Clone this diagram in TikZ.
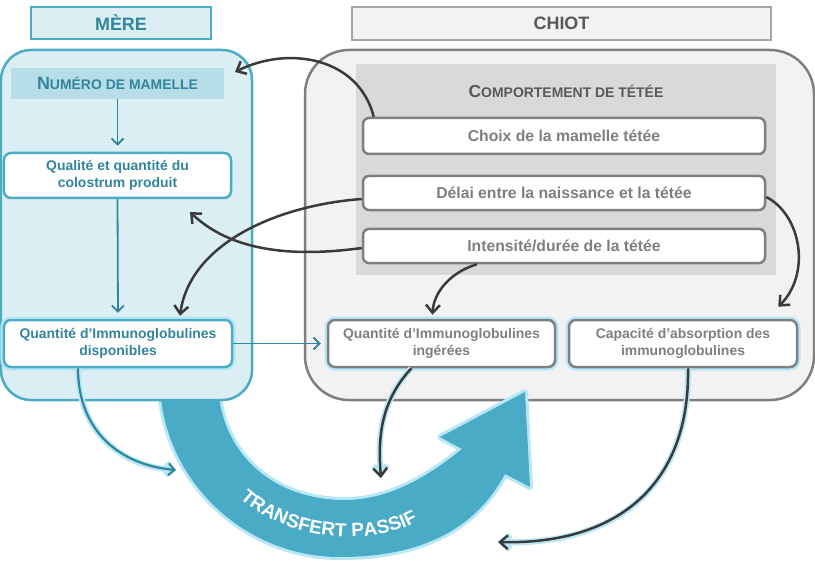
\documentclass[tikz,border=0pt]{standalone}
\usepackage{fontspec}
\setmainfont{Liberation Sans}
\usetikzlibrary{arrows.meta,decorations.text}
\definecolor{tealb}{HTML}{4BACC6}
\definecolor{tealt}{HTML}{31859C}
\definecolor{panelc}{HTML}{DAEEF3}
\definecolor{bandlc}{HTML}{B7DDE8}
\definecolor{bigc}{HTML}{4AABC7}
\definecolor{glowc}{HTML}{B8E8F6}
\definecolor{grayp}{HTML}{F2F2F2}
\definecolor{grayband}{HTML}{D9D9D9}
\definecolor{grayb}{HTML}{7F7F7F}
\definecolor{grayt}{HTML}{7F7F7F}
\definecolor{graydk}{HTML}{595959}
\definecolor{darkc}{HTML}{3A3A3A}
\tikzset{
  lbox/.style={draw=tealb, fill=white, line width=2.5bp, rounded corners=7bp, inner sep=0pt,
    font=\fontsize{14}{17.5}\selectfont\bfseries, text=tealt, align=center},
  rbox/.style={draw=grayb, fill=white, line width=2.5bp, rounded corners=6bp, inner sep=0pt,
    font=\fontsize{15.8}{18}\selectfont\bfseries, text=grayt, align=center},
  sbox/.style={draw=grayb, fill=white, line width=2.5bp, rounded corners=7bp, inner sep=0pt,
    font=\fontsize{14}{17.5}\selectfont\bfseries, text=grayt, align=center},
  glow/.style={preaction={draw=glowc, line width=7bp}},
  darr/.style={draw=darkc, line width=2.5bp, -{Straight Barb[length=8bp,width=14bp]}},
  garr/.style={darr, preaction={draw=glowc, line width=6bp}},
  tarr/.style={draw=tealt, line width=1.8bp, -{Straight Barb[length=6bp,width=12bp]}},
  tgarr/.style={tarr, line width=2.2bp, preaction={draw=glowc, line width=6bp}},
}
\begin{document}
\begin{tikzpicture}[x=1bp,y=-1bp]
\useasboundingbox (0,0) rectangle (815,568);
\fill[white] (0,0) rectangle (815,568);

% right panel
\node[draw=grayb, fill=grayp, line width=2.5bp, rounded corners=44bp, minimum width=509bp, minimum height=350bp, inner sep=0pt] (rp) at (559.5,225) {};
\node[fill=grayband, minimum width=420bp, minimum height=211bp, inner sep=0pt] (cband) at (566,169.5) {};
\node[text=graydk, font=\bfseries] (ctitle) at (566,91) {{\fontsize{17.5}{17.5}\selectfont C}{\fontsize{14}{14}\selectfont OMPORTEMENT DE TÉTÉE}};

% big transfer arrow
\fill[bigc, preaction={draw=glowc, line width=6bp, line join=round}]
  (160,380) .. controls (160,475) and (240,557) .. (340,557)
  .. controls (420,557) and (475,530) .. (505,474)
  -- (530,487) -- (525,392) -- (440,437) -- (462,449)
  .. controls (430,475) and (390,500) .. (345,500)
  .. controls (270,500) and (218,450) .. (218,380) -- cycle;
\path[decorate, decoration={text along path, text align=fit to path,
  text={|\color{white}\fontsize{19}{19}\selectfont\bfseries|TRANSFERT PASSIF}}]
  (240,498) .. controls (285,540) and (370,548) .. (418,521);

% left panel
\node[draw=tealb, fill=panelc, line width=2.5bp, rounded corners=30bp, minimum width=251bp, minimum height=350bp, inner sep=0pt] (lp) at (126.5,225) {};
\node[fill=bandlc, minimum width=213bp, minimum height=31bp, inner sep=0pt, text=tealt, font=\bfseries] (numero) at (117.5,83.5) {{\fontsize{18}{18}\selectfont N}{\fontsize{14}{14}\selectfont UMÉRO DE MAMELLE}};

% headers
\node[draw=tealb, fill=panelc, line width=1.5bp, minimum width=180bp, minimum height=32bp, inner sep=0pt, text=tealt, font=\fontsize{18}{18}\selectfont\bfseries] (mere) at (121,23) {MÈRE};
\node[draw=grayb!70, fill=grayp, line width=1.5bp, minimum width=419bp, minimum height=33bp, inner sep=0pt, text=graydk, font=\fontsize{18}{18}\selectfont\bfseries] (chiot) at (561.5,23.5) {CHIOT};

% left boxes
\node[lbox, minimum width=227bp, minimum height=45bp] (colo) at (117.5,175.5) {Qualité et quantité du\\colostrum produit};
\node[lbox, glow, minimum width=228bp, minimum height=47bp] (dispo) at (118,343.5) {Quantité d’Immunoglobulines\\disponibles};

% right boxes
\node[rbox, minimum width=402bp, minimum height=36bp] (choix) at (564,136) {Choix de la mamelle tétée};
\node[rbox, minimum width=402bp, minimum height=34bp] (delai) at (564,193) {Délai entre la naissance et la tétée};
\node[rbox, minimum width=402bp, minimum height=34bp] (intens) at (564,246) {Intensité/durée de la tétée};
\node[sbox, glow, minimum width=227bp, minimum height=47bp] (inger) at (441.5,343.5) {Quantité d’Immunoglobulines\\ingérées};
\node[sbox, glow, minimum width=228bp, minimum height=47bp] (capa) at (683,343.5) {Capacité d’absorption des\\immunoglobulines};

% free ends
\coordinate (a1end) at (235,72);
\coordinate (a3end) at (190,212);
\coordinate (a6end) at (498,542);
\coordinate (a7end) at (381,478);
\coordinate (a8end) at (176,470);

% teal arrows
\draw[tarr, shorten >=6bp] (numero.south) -- (colo.north);
\draw[tarr, shorten >=6bp] (colo.south) -- (dispo.north);
\draw[tarr, shorten >=6bp] (dispo.east) -- (inger.west);

% dark arrows
\draw[darr] ([xshift=12bp]choix.north west) .. controls +(-15,-59) and +(54,-27) .. (a1end);
\draw[darr] ([yshift=-6bp]delai.west) .. controls +(-83,6) and +(10,-73) .. ([xshift=62bp,yshift=3bp]dispo.north);
\draw[darr] ([yshift=-2bp]intens.west) .. controls +(-73,10) and +(40,38) .. (a3end);
\draw[darr] ([xshift=-87bp]intens.south) .. controls +(-27,8) and +(1,-22) .. ([xshift=-9bp,yshift=4bp]inger.north);
\draw[darr] ([yshift=-4bp]delai.east) .. controls +(35,18) and +(33,-33) .. ([xshift=-20bp,yshift=12bp]capa.north east);
\draw[garr] ([xshift=5bp]capa.south) .. controls +(2,114) and +(122,3) .. (a6end);
\draw[garr] ([xshift=-30bp]inger.south) .. controls +(-32,34) and +(-3,-38) .. (a7end);
\draw[tgarr] ([xshift=-40bp]dispo.south) .. controls +(0,63) and +(-56,-5) .. (a8end);
\end{tikzpicture}
\end{document}
